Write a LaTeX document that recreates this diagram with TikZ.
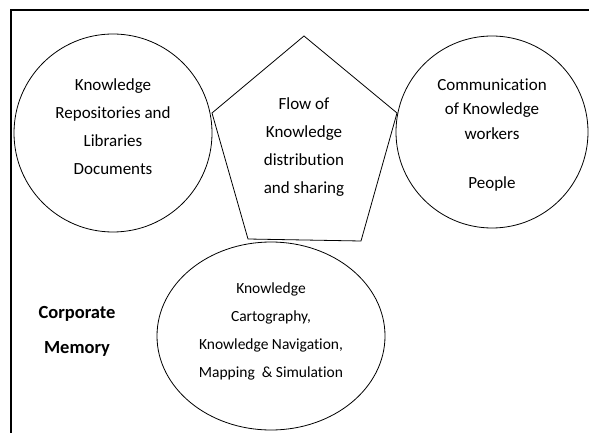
\documentclass[tikz,border=0pt]{standalone}
\usepackage{fontspec}
\setmainfont{Carlito}[Ligatures=CommonOff]
\usetikzlibrary{shapes.geometric}

\begin{document}
\begin{tikzpicture}[x=1pt,y=-1pt,
  every node/.style={align=center,font=\fontsize{17}{28}\selectfont},
  ring/.style={circle,draw,line width=0.8pt,minimum size=#1}]
\useasboundingbox (0,0) rectangle (589,433);
\draw [line width=1.4pt] (11,433) -- (11,10) -- (589,10);
\node [ring=198pt] (repo) at (113,133) {};
\node (repotext) at (113,127) {Knowledge\\Repositories and\\Libraries\\Documents};
\node [ring=192pt] (people) at (492,132) {};
\node [font=\fontsize{17}{24.5}\selectfont] (peopletext) at (492,135)
  {Communication\\of Knowledge\\workers\\[24.5pt]People};
\coordinate (p1) at (304,36);
\coordinate (p2) at (397,113);
\coordinate (p3) at (361,241);
\coordinate (p4) at (248,239);
\coordinate (p5) at (212,113);
\draw [line width=0.8pt] (p1) -- (p2) -- (p3) -- (p4) -- (p5) -- cycle;
\node (flow) at (304,147) {Flow of\\Knowledge\\distribution\\and sharing};
\node [ellipse,draw,line width=0.8pt,minimum width=228pt,minimum height=188pt] (carto) at (271,336) {};
\node [font=\fontsize{15.5}{28}\selectfont] (cartotext) at (271,331)
  {Knowledge\\Cartography,\\Knowledge Navigation,\\Mapping\ \ \& Simulation};
\node [font=\bfseries\fontsize{18.5}{35}\selectfont] (memory) at (77,331) {Corporate\\Memory};
\end{tikzpicture}
\end{document}
